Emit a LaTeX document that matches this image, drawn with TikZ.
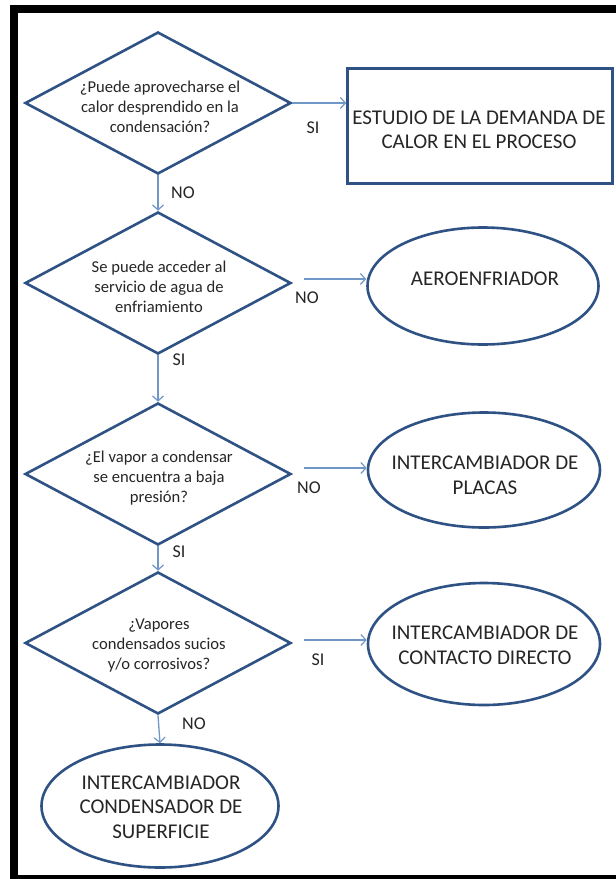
\documentclass[tikz,border=0pt]{standalone}
\usepackage{fontspec}
\setmainfont{Carlito}
\usetikzlibrary{shapes.geometric,arrows.meta,calc}
\definecolor{shapeblue}{HTML}{2F5285}
\definecolor{arrowblue}{HTML}{7098C6}
\definecolor{txt}{HTML}{262626}

\begin{document}
\begin{tikzpicture}[x=1pt,y=-1pt,
  decision/.style={diamond, draw=shapeblue, line width=2.6pt,
    minimum width=266pt, minimum height=142pt, inner sep=0pt},
  terminal/.style={ellipse, draw=shapeblue, line width=2.6pt, inner sep=0pt},
  process/.style={rectangle, draw=shapeblue, line width=2.6pt, inner sep=0pt,
    minimum width=265pt, minimum height=115pt},
  qtext/.style={align=center, text=txt, inner sep=0pt,
    font=\fontsize{16.6}{20}\selectfont},
  captext/.style={align=center, text=txt, inner sep=0pt,
    font=\fontsize{21}{24.5}\selectfont},
  lbl/.style={text=txt, inner sep=0pt, font=\fontsize{18}{20}\selectfont},
  flow/.style={draw=arrowblue, line width=1.3pt,
    -{Straight Barb[length=5pt,width=11pt,line width=1.2pt]}}
]
% page and frame
\fill[white] (0,0) rectangle (616,879);
\useasboundingbox (0,0) rectangle (616,879);
\fill[black] (10,5) rectangle (18,879);
\fill[black] (10,5) rectangle (616,13);
\fill[black] (10,875) rectangle (616,879);

% decisions
\node[decision] (D1) at (158,103) {};
\node[qtext] (T1) at (160,107) {¿Puede aprovecharse el\\calor desprendido en la\\condensación?};
\node[decision] (D2) at (158,283) {};
\node[qtext] (T2) at (159,287) {Se puede acceder al\\servicio de agua de\\enfriamiento};
\node[decision] (D3) at (158,474) {};
\node[qtext] (T3) at (159,478) {¿El vapor a condensar\\se encuentra a baja\\presión?};
\node[decision] (D4) at (158,643) {};
\node[qtext] (T4) at (159,646) {¿Vapores\\condensados sucios\\y/o corrosivos?};

% outcomes
\node[process] (B) at (480,126) {};
\node[captext] (BT) at (479,130) {ESTUDIO DE LA DEMANDA DE\\CALOR EN EL PROCESO};
\node[terminal, minimum width=231pt, minimum height=117pt] (E1) at (483,286) {};
\node[captext] (E1T) at (485,279) {AEROENFRIADOR};
\node[terminal, minimum width=232pt, minimum height=115pt] (E2) at (484,470) {};
\node[captext] (E2T) at (485,475) {INTERCAMBIADOR DE\\PLACAS};
\node[terminal, minimum width=232pt, minimum height=122pt] (E3) at (484,644) {};
\node[captext] (E3T) at (485,645) {INTERCAMBIADOR DE\\CONTACTO DIRECTO};
\node[terminal, minimum width=237pt, minimum height=123pt] (E4) at (160,806) {};
\node[captext] (E4T) at (161,807) {INTERCAMBIADOR\\CONDENSADOR DE\\SUPERFICIE};

% connectors
\draw[flow] (D1.east) -- (D1.east -| B.west);
\draw[flow] (D1.south) -- (D2.north);
\coordinate (a2) at ($(D2.east)+(12,-4)$);
\draw[flow] (a2) -- (a2 -| E1.west);
\draw[flow] (D2.south) -- (D3.north);
\coordinate (a3) at ($(D3.east)+(12,-6)$);
\draw[flow] (a3) -- (a3 -| E2.west);
\draw[flow] (D3.south) -- (D4.north);
\coordinate (a4) at ($(D4.east)+(12,-3)$);
\draw[flow] (a4) -- (a4 -| E3.west);
\draw[flow] (D4.south) -- (E4.north);

% branch labels
\node[lbl] (L1) at (313,128) {SI};
\node[lbl] (L2) at (183,193) {NO};
\node[lbl] (L3) at (307,298) {NO};
\node[lbl] (L4) at (179,360) {SI};
\node[lbl] (L5) at (309,488) {NO};
\node[lbl] (L6) at (179,552) {SI};
\node[lbl] (L7) at (318,660) {SI};
\node[lbl] (L8) at (194,724) {NO};
\end{tikzpicture}
\end{document}
